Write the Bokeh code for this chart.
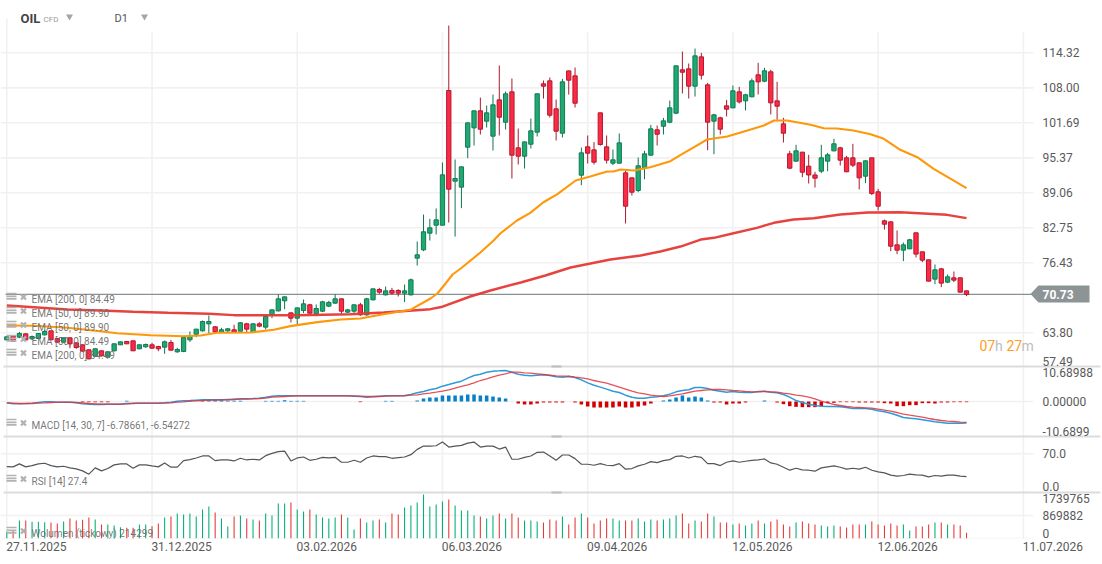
from bokeh.plotting import figure
from bokeh.models import Range1d, LinearAxis, FixedTicker
from bokeh.core.properties import value
from bokeh.embed import file_html
from bokeh.resources import INLINE

open_ = [62.53,63.25,63.01,63.61,62.71,62.77,63.43,64.15,62.77,62.11,
 62.89,61.99,61.63,60.73,59.58,60.55,59.40,60.55,61.63,62.23,
 62.35,60.91,61.27,61.63,61.33,61.21,62.05,60.37,60.43,62.53,
 63.55,64.15,65.42,64.88,63.91,64.15,64.34,64.09,65.42,63.97,
 65.42,64.82,67.10,67.76,69.57,67.40,66.44,67.82,68.85,67.22,
 67.70,68.61,69.15,69.93,67.52,67.70,68.85,67.04,69.75,71.61,
 70.65,71.43,71.43,70.95,70.65,77.27,78.77,81.78,83.22,83.22,
 107.52,91.16,90.08,97.29,100.78,103.85,101.98,99.28,105.83,101.80,
 107.28,97.17,95.67,97.83,100.00,108.72,109.26,104.21,99.82,111.06,
 110.16,92.24,97.35,96.81,103.49,97.35,94.41,94.41,92.66,91.76,
 89.48,93.56,95.85,100.42,101.08,101.80,103.43,111.25,111.43,108.30,
 113.59,108.54,101.99,102.59,104.75,104.39,107.28,105.65,106.38,110.35,
 109.20,110.89,105.65,101.50,96.09,94.77,96.39,93.87,92.28,92.96,
 94.77,96.63,97.17,95.37,95.37,94.47,92.06,95.37,89.24,84.00,
 83.82,79.67,78.71,78.95,81.84,78.41,76.97,73.48,75.34,72.94,
 73.72,73.72,71.37]
close = [63.07,62.29,63.67,62.53,63.13,63.67,64.03,62.53,62.11,62.89,
 61.81,61.15,60.49,59.10,60.91,59.64,60.37,61.81,62.17,61.81,
 60.55,61.63,61.69,61.03,60.91,62.17,60.67,60.79,62.95,63.25,
 64.46,65.84,65.84,63.97,64.34,64.52,63.91,65.60,64.46,65.42,
 65.00,66.74,67.94,69.93,70.29,66.44,68.30,69.03,67.34,68.18,
 69.39,69.27,69.93,67.70,67.94,68.85,67.04,69.93,71.73,71.13,
 71.37,70.95,70.95,71.37,73.36,77.87,82.02,82.74,84.18,92.30,
 89.72,91.64,93.74,101.68,103.85,100.54,103.49,104.93,102.70,106.92,
 95.85,95.67,98.25,100.24,106.92,108.30,103.07,100.18,109.08,109.38,
 105.23,96.27,96.21,94.59,97.77,94.95,95.01,98.07,86.65,89.17,
 93.93,96.09,100.60,99.64,102.04,104.39,111.97,110.82,108.30,113.77,
 110.29,101.81,103.13,100.54,104.15,107.46,105.47,106.74,109.26,109.08,
 111.07,105.29,104.69,99.82,93.51,96.63,92.78,92.28,91.70,95.37,
 95.91,97.90,94.95,92.85,94.05,91.76,94.83,88.94,86.65,83.40,
 79.43,78.71,79.67,80.58,78.00,76.91,73.12,75.16,72.76,73.90,
 73.30,71.13,70.73]
high = [63.13,63.25,63.97,63.70,63.31,63.70,64.33,64.20,62.80,62.95,
 62.95,62.05,61.70,60.80,61.00,60.60,60.40,61.85,62.20,62.30,
 62.40,61.70,61.87,61.99,61.45,62.41,62.53,61.09,63.00,64.03,
 64.50,66.02,66.92,65.00,64.70,64.60,65.24,65.72,65.60,65.45,
 65.72,66.80,68.00,70.71,70.35,67.45,68.35,69.81,69.03,68.91,
 69.57,69.57,70.77,69.98,68.12,68.90,69.21,70.11,71.78,71.91,
 72.15,71.91,71.67,72.51,73.60,80.27,85.14,84.36,86.23,94.53,
 119.24,95.07,93.80,101.75,103.90,106.25,104.81,106.79,112.03,107.34,
 109.68,100.66,98.30,102.46,106.97,109.32,109.86,105.89,109.62,111.10,
 111.67,97.23,99.40,98.20,103.50,99.40,96.87,99.76,93.08,91.80,
 95.43,96.63,101.32,101.20,102.58,105.71,112.00,114.55,112.39,115.09,
 114.31,108.90,103.31,102.77,105.83,108.42,108.18,106.92,109.68,112.51,
 111.61,111.25,109.08,102.59,96.63,97.72,96.45,95.91,92.85,97.72,
 96.27,98.80,97.36,95.73,97.90,94.50,94.90,95.40,89.78,84.24,
 83.85,82.26,80.09,80.76,81.90,78.45,77.00,76.13,75.52,74.32,
 74.86,73.75,71.40]
low = [62.47,62.29,62.83,62.40,62.53,62.70,63.31,62.50,62.05,62.05,
 61.03,60.91,60.40,59.00,59.50,59.55,59.35,60.43,61.60,61.75,
 60.50,60.85,61.09,60.91,60.49,60.00,60.60,60.19,60.31,62.17,
 63.01,64.03,63.73,63.85,63.85,63.85,63.85,64.05,63.85,63.85,
 64.82,64.40,66.44,67.64,68.06,65.66,65.30,67.34,67.22,66.80,
 67.52,68.42,69.03,67.22,67.40,67.40,66.86,66.86,69.63,70.83,
 70.53,70.71,70.35,69.33,70.53,75.94,78.53,80.45,81.54,83.20,
 83.70,81.17,86.29,95.31,97.59,99.58,100.84,96.69,99.40,100.48,
 91.64,94.17,93.44,97.05,99.22,106.07,102.65,98.50,99.04,106.79,
 104.45,90.44,94.35,94.17,97.59,94.35,94.05,94.35,83.52,88.57,
 89.17,91.52,95.80,97.59,99.58,101.62,103.25,106.98,106.07,106.43,
 109.50,96.75,96.03,99.58,102.83,104.33,105.17,103.91,106.32,106.80,
 109.02,103.19,102.23,98.14,93.33,94.70,91.88,90.74,90.02,92.60,
 92.96,96.55,93.99,92.80,93.69,89.66,90.80,88.64,85.87,82.44,
 78.53,77.99,76.73,78.90,77.39,76.55,73.05,72.58,72.04,72.76,
 72.94,71.10,70.41]

ema50_i = [0,4.3,9.6,14.8,17.5,22.8,28,30.7,33.3,38.6,42.3,44.9,49.2,52.9,56,59.2,63.9,67.1,68.2,69.5,70.6,71.9,75,77.1,78.2,80.8,82.9,85,87.2,90.1,92.4,95.1,96.1,97.2,99.3,101.9,105.1,107.2,109,110.9,114.1,117.3,119.9,121.5,123.6,127.3,129.4,131.5,134.1,136.8,138.9,141.5,144.2,146.8,149.5,152]
ema50_v = [65.12,65.06,64.7,64.09,63.73,63.37,63.19,63.31,63.8,63.85,64.34,65.0,65.72,66.2,66.38,67.05,67.95,69.99,70.89,72.7,74.32,75.4,78.29,80.45,81.77,84.06,85.45,87.36,88.81,91.28,92.0,92.9,92.9,93.27,93.09,93.68,94.76,96.21,97.4,98.68,99.22,100.3,101.2,102.11,102.11,101.33,100.72,100.66,100.3,99.64,98.8,96.82,95.49,93.39,91.59,89.90]
ema200_i = [0,4.3,9.6,14.8,20,25.5,32,36,41.3,46,54.4,59.7,67.1,68.8,73.4,76.6,81.4,85.3,89.3,95.6,100.4,103.5,106.7,109.9,112,115.1,118.8,121.5,124.6,127.8,132,136.3,141.5,145.2,148.9,152]
ema200_v = [68.73,68.42,68.0,67.82,67.59,67.41,67.23,66.98,66.98,66.98,67.16,67.46,68.06,68.45,70.35,71.43,72.88,74.14,75.58,77.03,77.75,78.47,79.37,80.63,80.94,81.77,82.74,83.65,84.24,84.48,85.15,85.51,85.56,85.33,85.09,84.49]

macd = [-0.42,-0.73,-0.73,-0.63,-0.52,-0.31,-0.1,-0.1,-0.21,-0.21,-0.21,-0.42,-0.73,-0.84,-0.94,-0.94,-0.84,-0.84,-0.84,-0.63,
 -0.52,-0.52,-0.52,-0.52,-0.52,-0.42,-0.21,0.1,0.21,0.31,0.42,0.52,0.52,0.52,0.52,0.63,0.73,0.84,0.84,0.94,
 1.05,1.36,1.68,1.78,1.78,1.78,1.78,1.78,1.78,1.78,1.78,1.78,1.78,1.78,1.78,1.68,1.57,1.36,1.47,1.68,1.78,1.78,1.78,
 1.89,2.2,2.73,3.14,3.67,4.09,4.82,5.34,5.87,6.39,7.34,8.17,8.59,9.22,9.54,9.64,9.75,9.22,8.59,8.28,8.07,8.28,8.38,8.17,7.75,7.65,7.86,7.55,6.81,5.87,5.13,4.51,3.88,3.25,2.83,1.99,1.36,1.05,1.05,1.36,1.47,1.78,2.31,3.04,3.46,3.67,4.4,4.4,4.09,3.56,3.25,2.93,3.14,2.93,2.83,2.83,3.14,3.25,2.93,2.73,2.2,1.36,0.3,
 -0.3,-0.84,-1.26,-1.47,-1.57,-1.57,-1.68,-1.89,-2.2,-2.2,-2.2,-2.41,-2.93,-3.25,-3.67,-4.3,-5.03,-5.24,-5.45,-5.76,-6.08,-6.39,-6.6,-6.81,-6.81,-6.81,-6.79]
signal = [-0.42,-0.52,-0.63,-0.63,-0.63,-0.52,-0.42,-0.31,-0.21,-0.21,-0.21,-0.31,-0.42,-0.63,-0.73,-0.84,-0.84,-0.84,-0.84,-0.73,
 -0.63,-0.52,-0.52,-0.52,-0.52,-0.52,-0.42,-0.21,-0.1,0.1,0.21,0.31,0.42,0.42,0.52,0.52,0.63,0.73,0.73,0.84,
 0.94,1.05,1.36,1.47,1.57,1.68,1.78,1.78,1.78,1.78,1.78,1.78,1.78,1.78,1.78,1.78,1.68,1.57,1.57,1.57,1.68,1.78,1.78,
 1.78,1.99,2.1,2.41,2.62,2.93,3.25,3.67,4.19,4.72,5.24,5.87,6.6,7.13,7.75,8.28,8.7,9.22,9.22,9.01,8.91,8.7,8.49,8.28,8.07,7.96,7.96,7.65,7.44,7.13,6.6,6.18,5.76,5.13,4.51,3.88,3.25,2.73,2.41,1.99,1.78,1.57,1.78,2.1,2.41,2.83,3.25,3.46,3.67,3.77,3.77,3.67,3.46,3.35,3.14,3.04,3.04,3.14,3.04,2.93,2.62,2.41,1.99,
 1.78,1.36,0.84,0.1,-0.42,-0.94,-1.26,-1.57,-1.78,-1.89,-1.99,-2.1,-2.41,-2.72,-3.04,-3.46,-3.98,-4.3,-4.61,-4.93,-5.34,-5.66,-5.97,-6.18,-6.29,-6.5,-6.54]
hist = [0,0,0,0,0,0,0,0,0,0,0,0,-0.2,-0.2,-0.2,-0.2,-0.2,0,0,0.2,
 0,0,0,0,0,0,0,0,0,0.3,0,0.3,0.4,0.4,0.4,0.2,0.2,0.2,0,0,
 0,0.2,0.2,0.2,0.4,0.2,0.2,0.2,0,0,0,0,0,0,0,0,-0.2,0,0,0,
 0.2,0.2,0,0,0,0.31,0.94,1.26,1.26,1.89,1.89,1.89,1.89,2.2,2.2,1.89,1.89,1.57,1.26,0.94,
 0,-0.63,-0.94,-0.94,-0.63,-0.31,-0.31,-0.31,-0.31,0,-0.31,-0.94,-1.57,-1.89,-1.89,-1.89,-1.89,-1.57,-1.89,-1.89,
 -1.57,-1.26,-0.63,0,0.31,0.63,1.26,1.89,1.26,1.57,1.26,0.31,-0.31,-0.31,-0.94,-0.63,-0.63,-0.31,0,0,
 0.31,0,-0.31,-0.84,-1.47,-1.68,-1.78,-1.78,-1.78,-1.47,-0.52,-0.42,-0.21,-0.21,-0.21,-0.31,-0.31,-0.31,-0.31,-0.52,
 -0.63,-1.47,-1.47,-1.15,-1.15,-0.52,-0.52,-0.63,-0.31,-0.31,-0.21,-0.21,-0.21]
rsi = [46.2,45.6,51.1,45.6,48.0,51.1,52.3,48.0,45.6,46.8,43.8,41.9,38.2,32.1,43.8,38.2,42.5,49.3,51.1,51.1,
 43.1,49.3,49.3,47.4,45.6,52.9,45.0,45.0,57.2,59.0,62.1,65.8,65.8,57.2,58.4,58.4,56.6,61.5,58.4,59.7,
 58.4,66.4,70.7,73.7,74.9,56.6,62.1,63.9,57.8,59.7,63.3,62.1,63.3,54.2,54.2,57.8,54.2,62.1,65.8,64.5,
 64.5,61.5,62.7,63.9,68.2,78.0,84.1,84.1,84.7,91.5,82.3,84.1,85.3,89.6,91.5,82.3,84.1,84.1,78.6,82.3,
 59.7,59.7,63.3,65.8,72.5,73.1,65.8,57.8,67.6,67.6,60.9,50.5,50.5,48.6,51.7,48.6,48.0,51.7,41.3,42.5,
 47.4,50.5,55.4,53.5,57.2,59.0,65.2,65.8,62.1,65.2,63.3,51.7,51.7,48.0,54.2,56.6,54.2,56.0,57.8,58.4,
 60.3,52.9,50.5,45.0,39.5,43.1,40.0,39.4,37.6,43.7,45.6,47.4,44.9,41.3,43.1,41.3,44.9,39.4,36.4,34.5,
 30.3,28.4,29.6,32.1,30.9,30.3,27.2,29.6,28.4,30.3,30.3,28.4,27.4]
volume = [252000,290000,681000,681000,630000,630000,618000,605000,567000,643000,
 756000,681000,706000,794000,719000,530000,530000,492000,429000,403000,
 403000,530000,530000,466000,567000,794000,832000,946000,908000,946000,
 832000,1097000,1210000,983000,756000,454000,832000,870000,756000,719000,
 681000,946000,870000,1324000,1324000,1362000,1097000,1021000,1097000,908000,
 794000,756000,794000,908000,794000,340000,756000,605000,681000,719000,
 605000,946000,908000,1172000,1248000,1362000,1664000,1210000,1286000,1399000,
 1475000,1248000,1059000,1059000,870000,832000,756000,870000,946000,756000,
 946000,794000,681000,681000,643000,605000,719000,681000,832000,530000,
 794000,946000,794000,567000,681000,756000,756000,681000,681000,681000,
 756000,643000,719000,681000,719000,756000,870000,946000,567000,681000,
 643000,946000,832000,605000,605000,530000,567000,492000,567000,681000,
 567000,643000,719000,530000,454000,605000,643000,567000,530000,492000,
 454000,492000,454000,416000,530000,530000,530000,643000,530000,492000,
 567000,492000,530000,303000,454000,454000,530000,605000,605000,530000,
 530000,492000,214299]

date_ticks = [0, 23, 46, 69, 92, 115, 138, 161]
date_labels = ["27.11.2025", "31.12.2025", "03.02.2026", "06.03.2026", "09.04.2026", "12.05.2026", "12.06.2026", "11.07.2026"]
price_ticks = [114.32, 108.00, 101.69, 95.37, 89.06, 82.75, 76.43, 63.80]
last_price = 70.73
price_floor = 57.49
macd_limit = 10.68988
rsi_tick = 70
vol_limit = 1739765
vol_mid = 869882

W, H, FRAME_H = 1102, 564, 538

def X(px):
    return (px - 6.3) / 6.314
def PY(py):
    return 123.76 - py * 0.18044
def MV(py):
    return (401 - py) * 0.3144
def RV(py):
    return (491 - py) * 100 / 54
def VV(py):
    return (538 - py) * 37821

FONT = value("Roboto")
GRID = "#f1f1f1"
TICK = "#5a5a5a"
SEP = "#dcdcdc"
idx = list(range(len(close)))
x_grid_end = X(1033)
x_label = X(1042)

p = figure(width=W, height=H, x_range=Range1d(X(0), X(W)), y_range=Range1d(PY(FRAME_H), PY(0)),
           x_axis_type=None, y_axis_type=None, toolbar_location=None, output_backend="svg",
           min_border=0, min_border_bottom=H - FRAME_H, outline_line_color=None,
           background_fill_color="white", border_fill_color="white")
p.xgrid.visible = False
p.ygrid.visible = False
p.extra_y_ranges = {
    "macd": Range1d(MV(FRAME_H), MV(0)),
    "rsi": Range1d(RV(FRAME_H), RV(0)),
    "vol": Range1d(VV(FRAME_H), VV(0)),
}

def right_axis(ticks, labels, range_name="default"):
    ax = LinearAxis(y_range_name=range_name, ticker=FixedTicker(ticks=ticks),
                    major_label_overrides=dict(zip(ticks, labels)),
                    axis_line_color=None, major_tick_line_color=None, minor_tick_line_color=None,
                    major_tick_in=0, major_tick_out=0, major_label_standoff=9,
                    major_label_text_font="Roboto", major_label_text_font_size="12px",
                    major_label_text_color=TICK, fixed_location=x_grid_end)
    p.add_layout(ax, "right")

def edge_label(y, text, off, range_name="default"):
    p.text([x_label], [y], text=[text], y_offset=off, y_range_name=range_name, text_font=FONT,
           text_font_size="12px", text_color=TICK, text_align="left", text_baseline="middle")

# ---- grid
n = len(date_ticks)
p.segment(date_ticks[1:], [PY(FRAME_H)] * (n - 1), date_ticks[1:], [PY(32)] * (n - 1), line_color=GRID, line_width=1.6)
p.segment([0], [PY(FRAME_H)], [0], [PY(18)], line_color=GRID, line_width=1.6)
p.segment([X(0)] * len(price_ticks), price_ticks, [x_grid_end] * len(price_ticks), price_ticks, line_color=GRID, line_width=1.6)
p.segment([X(0)], [0], [x_grid_end], [0], y_range_name="macd", line_color=GRID, line_width=1.6)
p.segment([X(0)], [rsi_tick], [x_grid_end], [rsi_tick], y_range_name="rsi", line_color=GRID, line_width=1.6)
p.segment([X(0)] * 2, [0, vol_mid], [x_grid_end] * 2, [0, vol_mid], y_range_name="vol", line_color=GRID, line_width=1.6)

# ---- pane separators and handles
seps = [PY(366), PY(436), PY(492)]
p.segment([X(3)] * 3, seps, [X(1100)] * 3, seps, line_color=SEP, line_width=1.8)
p.segment([X(551)] * 3, seps, [X(561)] * 3, seps, line_color="#bdbdbd", line_width=2)

# ---- price pane
p.line([X(5), X(1032)], [last_price, last_price], line_color="#8a9192", line_width=1.4)
up = [c >= o for o, c in zip(open_, close)]
wick_col = ["#12724e" if u else "#a81a2e" for u in up]
body_col = ["#1fa971" if u else "#fb2b44" for u in up]
edge_col = ["#107a54" if u else "#b5172f" for u in up]
tops = [max(o, c) for o, c in zip(open_, close)]
bots = [min(o, c) for o, c in zip(open_, close)]
p.segment(idx, high, idx, low, line_color=wick_col, line_width=1)
p.vbar(x=idx, top=tops, bottom=bots, width=0.68, fill_color=body_col, line_color=edge_col, line_width=1)
p.line(ema200_i, ema200_v, line_color="#e53935", line_width=2.4, line_alpha=0.95)
p.line(ema50_i, ema50_v, line_color="#ff9808", line_width=2.1)
right_axis(price_ticks, [f"{t:.2f}" for t in price_ticks])
edge_label(price_floor, f"{price_floor:.2f}", -6)

# ---- price tag
tag_x = [X(1030), X(1038), X(1089), X(1089), X(1038)]
tag_y = [PY(293.5), PY(285), PY(285), PY(302), PY(302)]
p.patch(tag_x, tag_y, fill_color="#8c9496", line_color=None)
p.text([x_label], [PY(293.5)], text=[f"{last_price:.2f}"], text_font=FONT, text_font_size="12px",
       text_font_style="bold", text_color="white", text_align="left", text_baseline="middle")

# ---- countdown
for px, t, col in ((979, "07", "#ff9d1e"), (994.5, "h", "#bdbdbd"), (1006, "27", "#ff9d1e"), (1021, "m", "#bdbdbd")):
    p.text([X(px)], [PY(345)], text=[t], text_font=FONT, text_font_size="14px", text_color=col,
           text_align="left", text_baseline="middle")

# ---- header
p.text([X(20)], [PY(18)], text=["OIL"], text_font=FONT, text_font_size="13px", text_font_style="bold",
       text_color="#444444", text_align="left", text_baseline="middle")
p.text([X(43)], [PY(18.5)], text=["CFD"], text_font=FONT, text_font_size="8px", text_color="#9a9a9a",
       text_align="left", text_baseline="middle")
p.text([X(114)], [PY(18)], text=["D1"], text_font=FONT, text_font_size="11px", text_color="#555555",
       text_align="left", text_baseline="middle")
p.scatter([X(69), X(144)], [PY(16), PY(16)], marker="inverted_triangle", size=7, fill_color="#a5a5a5", line_color=None)

# ---- MACD pane
hist_col = ["#0a7fc9" if h >= 0 else "#d40000" for h in hist]
p.vbar(x=idx, top=hist, bottom=[0] * len(hist), width=0.56, fill_color=hist_col, line_color=None, y_range_name="macd")
p.line(idx, macd, line_color="#2f9ad8", line_width=1.5, y_range_name="macd")
p.line(idx, signal, line_color="#e2333b", line_width=1.3, line_alpha=0.85, y_range_name="macd")
right_axis([0], ["0.00000"], "macd")
edge_label(macd_limit, f"{macd_limit:.5f}", 5, "macd")
edge_label(-macd_limit, "-10.6899", -4, "macd")

# ---- RSI pane
p.line(idx, rsi, line_color="#555555", line_width=1.2, y_range_name="rsi")
right_axis([rsi_tick], ["70.0"], "rsi")
edge_label(0, "0.0", -5, "rsi")

# ---- volume pane
vol_col = ["#00b074" if u else "#e53935" for u in up]
p.vbar(x=idx, top=volume, bottom=[0] * len(volume), width=0.17, fill_color=vol_col, line_color=None, y_range_name="vol")
right_axis([vol_mid], [str(vol_mid)], "vol")
edge_label(vol_limit, str(vol_limit), 6, "vol")
edge_label(0, "0", -5, "vol")

# ---- legends, over everything
leg_py = [299, 313, 327, 341, 355, 425, 481, 533]
leg_txt = ["EMA [200, 0] 84.49", "EMA [50, 0] 89.90", "EMA [50, 0] 89.90", "EMA [50, 0] 84.49", "EMA [200, 0] 84.49",
           "MACD [14, 30, 7] -6.78661, -6.54272", "RSI [14] 27.4", "Wolumen (tickowy) 214299"]
for off in (-6, -3.2, -0.6):
    ys = [PY(v + off) for v in leg_py]
    p.rect([X(11)] * len(ys), ys, width=10, height=1.7, width_units="screen", height_units="screen",
           fill_color="#b2b2b2", line_color=None)
p.scatter([X(23)] * len(leg_py), [PY(v - 2.5) for v in leg_py], marker="x", size=7, line_color="#b2b2b2", line_width=2.4)
p.text([X(31)] * len(leg_py), [PY(v) for v in leg_py], text=leg_txt, text_font=FONT, text_font_size="10px",
       text_color="#6e6e6e", text_align="left", text_baseline="middle", text_alpha=0.95)

# ---- date axis
shift = 29.5 / 6.314
date_axis = LinearAxis(ticker=FixedTicker(ticks=[t + shift for t in date_ticks]),
                       major_label_overrides={t + shift: l for t, l in zip(date_ticks, date_labels)},
                       axis_line_color=None, major_tick_line_color=None, minor_tick_line_color=None,
                       major_tick_in=0, major_tick_out=0, major_label_standoff=3,
                       major_label_text_font="Roboto", major_label_text_font_size="12px",
                       major_label_text_color=TICK)
p.add_layout(date_axis, "below")

open("out.html", "w").write(file_html(p, INLINE))
